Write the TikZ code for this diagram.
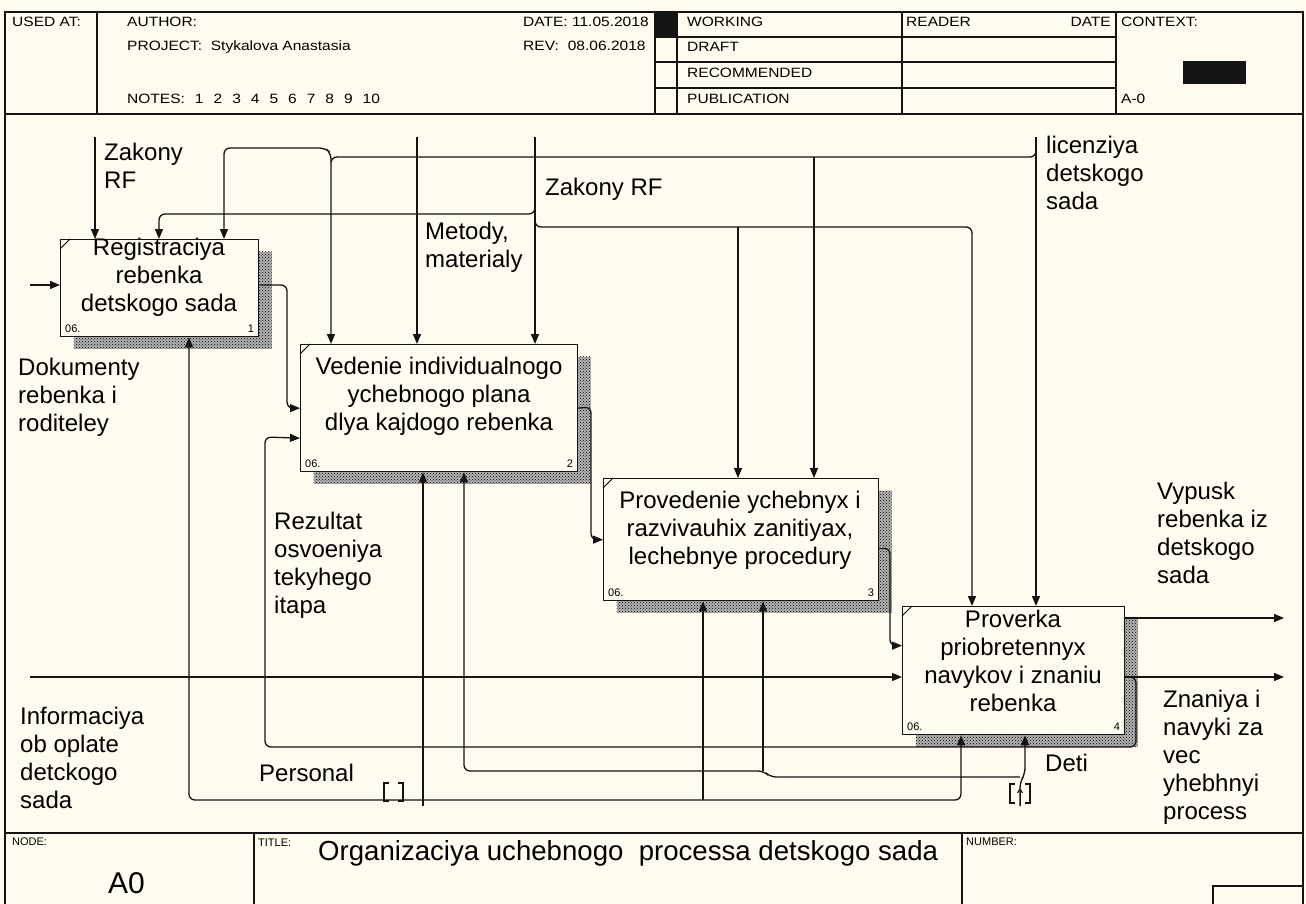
\documentclass[tikz,border=0pt]{standalone}
\usepackage{fontspec}
\setmainfont{Liberation Sans}
\newfontfamily\hdrfont{Liberation Sans}[FakeStretch=1.15]
\definecolor{paper}{RGB}{255, 251, 240}
\definecolor{ink}{RGB}{20, 20, 20}
\usepackage{tikz}
\usetikzlibrary{arrows.meta, calc, patterns, shadows}

\begin{document}
\begin{tikzpicture}[x=1pt, y=-1pt,
  fbox/.style={draw=ink, line width=1.3pt, fill=paper, anchor=north west, inner sep=0pt,
    drop shadow={shadow xshift=13pt, shadow yshift=-12pt, opacity=1, fill=black!30},
    drop shadow={shadow xshift=13pt, shadow yshift=-12pt, opacity=1, pattern=crosshatch dots, pattern color=black}},
  btext/.style={font=\fontsize{24}{28}\selectfont, align=center, inner sep=0pt},
  lbl/.style={font=\fontsize{24}{28}\selectfont, align=left, anchor=north west, inner sep=0pt},
  hdr/.style={font=\hdrfont\fontsize{13.5}{15}\selectfont, anchor=base west, inner sep=0pt},
  tiny/.style={font=\fontsize{11}{12}\selectfont, anchor=base west, inner sep=0pt},
  rule/.style={draw=ink, line width=1.2pt},
  pipe/.style={draw=ink, line width=1.3pt, rounded corners=6pt},
  flow/.style={pipe, -{Triangle[length=10pt, width=8pt]}},
]
  \useasboundingbox (0,0) rectangle (1306,904);
  \fill[paper] (0,0) rectangle (1306,904);

  % frame, header and footer
  \draw[rule] (5,904) |- (1303,12) -- (1303,904);
  \draw[rule] (5,114) -- (1303,114);
  \draw[rule] (97,12) -- (97,114);
  \draw[rule] (655,12) -- (655,114);
  \draw[rule] (677,12) -- (677,114);
  \draw[rule] (902,12) -- (902,114);
  \draw[rule] (1116,12) -- (1116,114);
  \draw[rule] (655,37) -- (1116,37);
  \draw[rule] (655,62) -- (1116,62);
  \draw[rule] (655,88) -- (1116,88);
  \fill[ink] (655,12) rectangle (677,37);
  \fill[ink] (1183,61) rectangle (1246,84);
  \draw[rule] (5,833) -- (1303,833);
  \draw[rule] (254,833) -- (254,904);
  \draw[rule] (962,833) -- (962,904);
  \draw[rule] (1213,904) |- (1303,886);

  \node[hdr] (usedat) at (12,27) {USED AT:};
  \node[hdr] (author) at (127,27) {AUTHOR:};
  \node[hdr] (project) at (127,51) {PROJECT:\ \ Stykalova Anastasia};
  \node[hdr] (notes) at (127,104) {NOTES:\hspace{10pt}1\hspace{10pt}2\hspace{10pt}3\hspace{10pt}4\hspace{10pt}5\hspace{10pt}6\hspace{10pt}7\hspace{10pt}8\hspace{10pt}9\hspace{10pt}10};
  \node[hdr] (date) at (523,27) {DATE:\ 11.05.2018};
  \node[hdr] (rev) at (523,51) {REV:\hspace{9pt}08.06.2018};
  \node[hdr] (working) at (687,27) {WORKING};
  \node[hdr] (draft) at (687,52) {DRAFT};
  \node[hdr] (recom) at (687,78) {RECOMMENDED};
  \node[hdr] (publ) at (687,104) {PUBLICATION};
  \node[hdr] (reader) at (906,27) {READER};
  \node[hdr, anchor=base east] (rdate) at (1111,27) {DATE};
  \node[hdr] (context) at (1121,27) {CONTEXT:};
  \node[hdr] (actx) at (1121,104) {A-0};

  \node[tiny] (nodel) at (12,845) {NODE:};
  \node[font=\fontsize{30}{32}\selectfont, anchor=base west, inner sep=0pt] (nodeno) at (108,893) {A0};
  \node[tiny] (titlel) at (258,846) {TITLE:};
  \node[font=\fontsize{27.6}{30}\selectfont, anchor=base west, inner sep=0pt] (title) at (318,860) {Organizaciya uchebnogo\ \ processa detskogo sada};
  \node[tiny] (numberl) at (966,845) {NUMBER:};

  % activity boxes
  \node[fbox, minimum width=198pt, minimum height=97pt] (b1) at (60,239) {};
  \node[fbox, minimum width=277pt, minimum height=127pt] (b2) at (300,344) {};
  \node[fbox, minimum width=275pt, minimum height=122pt] (b3) at (603,478) {};
  \node[fbox, minimum width=222pt, minimum height=128pt] (b4) at (902,606) {};
  \node[btext] (b1t) at (159,277) {Registraciya\\rebenka\\detskogo sada};
  \node[btext] (b2t) at (439,396) {Vedenie individualnogo\\ychebnogo plana\\dlya kajdogo rebenka};
  \node[btext] (b3t) at (740,530) {Provedenie ychebnyx i\\razvivauhix zanitiyax,\\lechebnye procedury};
  \node[btext] (b4t) at (1013,661) {Proverka\\priobretennyx\\navykov i znaniu\\rebenka};
  \foreach \bx/\n in {b1/1, b2/2, b3/3, b4/4} {
    \draw[line width=1pt] ($(\bx.north west)+(0,10)$) -- ($(\bx.north west)+(10,0)$);
    \node[tiny] (\bx-code) at ($(\bx.south west)+(5,-5)$) {06.};
    \node[tiny, anchor=base east] (\bx-num) at ($(\bx.south east)+(-5,-5)$) {\n};
  }

  % arrow ends
  \coordinate (zk1) at (95,137);
  \coordinate (met) at (417,137);
  \coordinate (zk2) at (535,137);
  \coordinate (lic) at (1036,137);
  \coordinate (dok) at (30,285);
  \coordinate (inf) at (30,677);
  \coordinate (vyp) at (1284,618);
  \coordinate (znv) at (1284,677);
  \coordinate (pers) at (393,800);
  \coordinate (deti) at (1020,806);

  % controls
  \draw[flow] (zk1) -- (zk1 |- b1.north);
  \draw[flow] (met) -- (met |- b2.north);
  \draw[flow] (zk2) -- (zk2 |- b2.north);
  \draw[flow] (lic) -- (lic |- b4.north);
  \draw[flow] ([yshift=-13pt]lic) |- (331,157) -- (331,0 |- b2.north);
  \draw[flow] (331,162) -- (331,153) -- (325,148) -| (224,0 |- b1.north);
  \draw[flow] (814,157) -- (814,0 |- b3.north);
  \draw[flow] ([yshift=-62pt]zk2) |- (159,214) -- (159,0 |- b1.north);
  \draw[flow] ([yshift=-78pt]zk2) |- (972,227) -- (972,0 |- b4.north);
  \draw[flow] (738,227) -- (738,0 |- b3.north);

  % inputs, outputs
  \draw[flow] (dok) -- (dok -| b1.west);
  \draw[flow] (b1.east |- dok) -- (287,285) |- (b2.west);
  \draw[flow] (b2.east) -- (591,407) |- (b3.west);
  \draw[flow] ([yshift=-9pt]b3.east) -- (890,548) |- ([yshift=25pt]b4.west);
  \draw[flow] (inf) -- (inf -| b4.west);
  \draw[flow] (b4.east |- vyp) -- (vyp);
  \draw[flow] (b4.east |- znv) -- (znv);
  \draw[flow] (1126,677) -| (1136,747) -| (265,437) -- ([yshift=-30pt]b2.west);

  % mechanisms
  \draw[flow] (pers) -| (189,0 |- b1.south);
  \draw[flow] (pers) -| (961,0 |- b4.south);
  \draw[flow] (703,800) -- (703,0 |- b3.south);
  \draw[flow] (423,806) -- (423,0 |- b2.south);
  \draw[flow] (deti) -- (1020,782) -- (1025,774) -- (1025,0 |- b4.south);
  \draw[flow] (1020,777) -- (770,777) -- (764,771) -| (464,0 |- b2.south);
  \draw[flow] (763,771) -- (763,0 |- b3.south);

  % tunnels
  \draw[rule] (389,783) -| (384,801) -- (389,801);
  \draw[rule] (398,783) -| (403,801) -- (398,801);
  \draw[rule] (1015,784) -| (1010,803) -- (1015,803);
  \draw[rule] (1025,784) -| (1030,803) -- (1025,803);
  \draw[ink, line width=1pt, -{Straight Barb[length=4pt, width=5pt]}] (1020,806) -- (1020,788);

  % labels
  \node[lbl] (zk1l) at (104,143) {Zakony\\RF};
  \node[lbl] (zk2l) at (545,178) {Zakony RF};
  \node[lbl] (metl) at (425,222) {Metody,\\materialy};
  \node[lbl] (licl) at (1046,136) {licenziya\\detskogo\\sada};
  \node[lbl] (dokl) at (18,358) {Dokumenty\\rebenka i\\roditeley};
  \node[lbl] (rezl) at (274,512) {Rezultat\\osvoeniya\\tekyhego\\itapa};
  \node[lbl] (infl) at (20,707) {Informaciya\\ob oplate\\detckogo\\sada};
  \node[lbl] (persl) at (259,764) {Personal};
  \node[lbl] (detil) at (1045,754) {Deti};
  \node[lbl] (vypl) at (1157,482) {Vypusk\\rebenka iz\\detskogo\\sada};
  \node[lbl] (znvl) at (1163,690) {Znaniya i\\navyki za\\vec\\yhebhnyi\\process};
\end{tikzpicture}
\end{document}
